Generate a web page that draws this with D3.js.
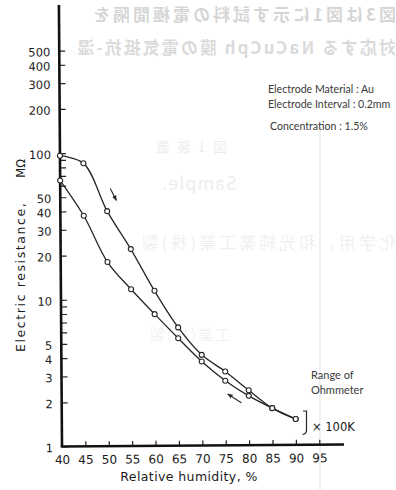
<!DOCTYPE html>
<html>
<head>
<meta charset="utf-8">
<script src="https://cdn.jsdelivr.net/npm/d3@7/dist/d3.min.js"></script>
<style>
  html, body { margin: 0; padding: 0; background: #fff; }
  svg { display: block; }
  .tick text { font-family: "DejaVu Sans", sans-serif; fill: #1a1a1a; }
  .note { font-family: Lato, "Open Sans", sans-serif; fill: #3a3a3a; }
  .ghost { font-family: "Noto Sans CJK JP", sans-serif; fill: #000; }
</style>
</head>
<body>
<svg id="chart" width="396" height="490"></svg>
<script>
// Relative humidity (%) at which the resistance was measured
const humidity = [40, 45, 50, 55, 60, 65, 70, 75, 80, 85, 90];
// Resistance while humidity rises (upper branch)
const resistanceRising = [96, 85, 40, 22, 11.4, 6.4, 4.15, 3.19, 2.37, 1.785, 1.5];
// Resistance while humidity falls (lower branch)
const resistanceFalling = [65, 37.3, 18, 11.7, 7.9, 5.4, 3.74, 2.76, 2.17, 1.785, 1.5];

// Axis ticks and labels
const xTicks = [40, 45, 50, 55, 60, 65, 70, 75, 80, 85, 90, 95];
const yTicks = [1, 2, 3, 4, 5, 6, 7, 8, 9, 10, 20, 30, 40, 50, 60, 70, 80, 90, 100, 200, 300, 400, 500];
const yLabels = [1, 2, 3, 4, 5, 10, 20, 30, 40, 50, 100, 200, 300, 400, 500];

// Measurement conditions
const conditions = ["Electrode Material : Au", "Electrode Interval : 0.2mm", "Concentration : 1.5%"];

// Print showing through from the back of the sheet (mirrored)
const showThrough = [
  { text: "図3は図1に示す試料の電極間隔を", s: 0, y: 21, size: 17, ls: 3, op: 0.16, w: 700 },
  { text: "対応する NaCuCph 膜の電気抵抗-湿", s: 0, y: 54, size: 17, ls: 2, op: 0.14, w: 700 },
  { text: "図 1   装    置", s: 169, y: 152, size: 14, ls: 2, op: 0.07, w: 400 },
  { text: "Sample.", s: 159, y: 190, size: 18, ls: 1, op: 0.07, w: 400 },
  { text: "化学用，和光純薬工業(株)製", s: 0, y: 249, size: 17, ls: 3, op: 0.06, w: 400 },
  { text: "工業(株)製", s: 166, y: 340, size: 15, ls: 2, op: 0.05, w: 400 }
];

const svg = d3.select("#chart");
svg.append("rect").attr("width", 396).attr("height", 490).attr("fill", "#fff");

const ghost = svg.append("g").attr("transform", "translate(396,0) scale(-1,1)");
showThrough.forEach(g => {
  ghost.append("text").attr("class", "ghost")
    .attr("x", g.s).attr("y", g.y)
    .attr("font-size", g.size)
    .attr("font-weight", g.w)
    .attr("letter-spacing", g.ls)
    .attr("opacity", g.op)
    .text(g.text);
});
ghost.append("line")
  .attr("x1", 76).attr("x2", 76).attr("y1", 125).attr("y2", 490)
  .attr("stroke", "#000").attr("stroke-width", 1.5).attr("opacity", 0.07);

const X0 = 62, Y0 = 446.5;
const x = d3.scaleLinear().domain([40, 100]).range([X0, 342.7]);
const y = d3.scaleLog().domain([1, 1000]).range([Y0, 6.4]);

// whole plot sits very slightly rotated on the page
const plot = svg.append("g").attr("transform", `rotate(-0.4, ${X0}, ${Y0})`);

// x axis
const xAxis = d3.axisBottom(x)
  .tickValues(xTicks)
  .tickSizeInner(-5)
  .tickSizeOuter(0)
  .tickPadding(9)
  .tickFormat(d3.format("d"));
const gx = plot.append("g").attr("transform", `translate(0,${Y0})`).call(xAxis);
gx.select(".domain").remove();
gx.selectAll(".tick line").attr("stroke", "#222").attr("stroke-width", 1.2);
gx.selectAll(".tick text").attr("font-size", 12);

// y axis
const yAxis = d3.axisLeft(y)
  .tickValues(yTicks)
  .tickSizeInner(-6)
  .tickSizeOuter(0)
  .tickPadding(9)
  .tickFormat(d => yLabels.includes(d) ? String(d) : "");
const gy = plot.append("g").attr("transform", `translate(${X0},0)`).call(yAxis);
gy.select(".domain").remove();
gy.selectAll(".tick line").attr("stroke", "#222").attr("stroke-width", 1.2);
gy.selectAll(".tick text").attr("font-size", 11.5).attr("dy", "0.45em");

// heavy axis lines
plot.append("line")
  .attr("x1", X0).attr("x2", X0)
  .attr("y1", Y0).attr("y2", 5)
  .attr("stroke", "#111").attr("stroke-width", 2.6);
plot.append("line")
  .attr("x1", X0).attr("x2", x(100))
  .attr("y1", Y0).attr("y2", Y0)
  .attr("stroke", "#111").attr("stroke-width", 2.6).attr("stroke-linecap", "square");

// axis titles
svg.append("text")
  .attr("x", 189).attr("y", 481)
  .attr("text-anchor", "middle")
  .attr("font-family", "DejaVu Sans, sans-serif")
  .attr("font-size", 12.5)
  .attr("letter-spacing", 0.4)
  .attr("fill", "#1a1a1a")
  .text("Relative  humidity, %");

const yTitle = svg.append("text")
  .attr("transform", "translate(25,352) rotate(-90)")
  .attr("font-family", "DejaVu Sans, sans-serif")
  .attr("font-size", 12.5)
  .attr("fill", "#1a1a1a");
yTitle.append("tspan").attr("letter-spacing", 1.6).text("Electric resistance,");
yTitle.append("tspan").attr("dx", 24).attr("font-size", 11.5).text("MΩ");

// hysteresis branches
const series = [resistanceRising, resistanceFalling];
const line = d3.line()
  .x((d, i) => x(humidity[i]))
  .y(d => y(d))
  .curve(d3.curveCatmullRom.alpha(0.5));

series.forEach(vals => {
  plot.append("path")
    .attr("d", line(vals))
    .attr("fill", "none")
    .attr("stroke", "#262626")
    .attr("stroke-width", 1.3);
});
series.forEach(vals => {
  plot.append("g").selectAll("circle")
    .data(vals)
    .join("circle")
    .attr("cx", (d, i) => x(humidity[i]))
    .attr("cy", d => y(d))
    .attr("r", 2.5)
    .attr("fill", "#fff")
    .attr("stroke", "#262626")
    .attr("stroke-width", 1.1);
});

// direction arrows
svg.append("defs").append("marker")
  .attr("id", "head")
  .attr("viewBox", "0 0 10 10")
  .attr("refX", 9).attr("refY", 5)
  .attr("markerWidth", 5).attr("markerHeight", 5)
  .attr("orient", "auto")
  .append("path").attr("d", "M0,1 L10,5 L0,9 Z").attr("fill", "#262626");

const arrows = [
  { from: [50.7, 57], to: [52.0, 47.3] },
  { from: [78.4, 1.95], to: [75.5, 2.24] }
];
arrows.forEach(a => {
  plot.append("line")
    .attr("x1", x(a.from[0])).attr("y1", y(a.from[1]))
    .attr("x2", x(a.to[0])).attr("y2", y(a.to[1]))
    .attr("stroke", "#262626").attr("stroke-width", 1.1)
    .attr("marker-end", "url(#head)");
});

// measurement conditions
conditions.forEach((t, i) => {
  svg.append("text").attr("class", "note")
    .attr("x", i === 2 ? 270 : 268)
    .attr("y", [93, 108, 130][i])
    .attr("font-size", 10.6)
    .text(t);
});

// ohmmeter range note
svg.append("text").attr("class", "note")
  .attr("x", 311).attr("y", 379).attr("font-size", 11).attr("fill", "#666")
  .text("Range of");
svg.append("text").attr("class", "note")
  .attr("x", 311).attr("y", 394).attr("font-size", 11).attr("fill", "#666")
  .text("Ohmmeter");

svg.append("path")
  .attr("d", "M303,411 L306.5,411 L306.5,430 Q306.5,434 302.5,434.5")
  .attr("fill", "none").attr("stroke", "#262626").attr("stroke-width", 1.2);
svg.append("text")
  .attr("x", 312).attr("y", 431)
  .attr("font-family", "DejaVu Sans, sans-serif")
  .attr("font-size", 11.5)
  .attr("fill", "#1a1a1a")
  .text("× 100K");
</script>
</body>
</html>
